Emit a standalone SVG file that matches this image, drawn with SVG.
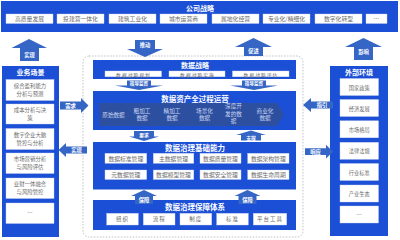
<svg xmlns="http://www.w3.org/2000/svg" width="400" height="240" viewBox="0 0 400 240">
<defs>
<style>
text{font-family:"Noto Sans CJK SC","Noto Sans",sans-serif;text-anchor:middle;dominant-baseline:central}
.panel{fill:#1b4fd6}
.box{fill:#ffffff;stroke:#c8d2ea;stroke-width:0.4}
.ttl{fill:#ffffff;font-weight:bold;font-size:7px}
.itm{fill:#6a6a6a;font-size:5.8px}
.lp{fill:#6a6a6a;font-size:5.4px}
.sm{fill:#6a6a6a;font-size:5px;letter-spacing:1px}
.stg{fill:#c9d4f0;font-size:5.6px}
.arw{fill:#3566c6}
.arl{fill:#ffffff;font-size:5.3px;font-weight:bold}
.band{fill:#2d4f9f}
</style>
</defs>

<g id="company-strategy">
<rect class="panel" x="1" y="1" width="397" height="31"/>
<text class="ttl" x="200" y="7.5">公司战略</text>
<rect class="box" x="6" y="14" width="47" height="9.5"/><text class="itm" x="29.5" y="18.8">高质量发展</text>
<rect class="box" x="57" y="14" width="47" height="9.5"/><text class="itm" x="80.5" y="18.8">投建营一体化</text>
<rect class="box" x="109" y="14" width="47" height="9.5"/><text class="itm" x="132.5" y="18.8">建筑工业化</text>
<rect class="box" x="160" y="14" width="47" height="9.5"/><text class="itm" x="183.5" y="18.8">城市运营商</text>
<rect class="box" x="212" y="14" width="47" height="9.5"/><text class="itm" x="235.5" y="18.8">属地化经营</text>
<rect class="box" x="263" y="14" width="47" height="9.5"/><text class="itm" x="286.5" y="18.8">专业化/精细化</text>
<rect class="box" x="315" y="14" width="47" height="9.5"/><text class="itm" x="338.5" y="18.8">数字化转型</text>
<rect class="box" x="366" y="14" width="21" height="9.5"/><text class="itm" x="376.5" y="18.8">…</text>
</g>

<g id="business-scenarios">
<rect class="panel" x="2" y="66" width="57" height="171"/>
<text class="ttl" x="30.5" y="72">业务场景</text>
<rect class="box" x="6" y="79.5" width="48" height="21"/><text class="lp" x="30" y="86">综合盈利能力</text><text class="lp" x="30" y="94">分析与预测</text>
<rect class="box" x="6" y="104" width="48" height="20"/><text class="lp" x="30" y="110">成本分析与决</text><text class="lp" x="30" y="118">策</text>
<rect class="box" x="6" y="128.5" width="48" height="21"/><text class="lp" x="30" y="135">数字企业大脑</text><text class="lp" x="30" y="143">管控与分析</text>
<rect class="box" x="6" y="153" width="48" height="20.5"/><text class="lp" x="30" y="159.3">市场营销分析</text><text class="lp" x="30" y="167.3">与风险评估</text>
<rect class="box" x="6" y="178" width="48" height="20.5"/><text class="lp" x="30" y="184.3">业财一体融合</text><text class="lp" x="30" y="192.3">与风险管控</text>
<rect class="box" x="6" y="203" width="48" height="20.5"/><text class="lp" x="30" y="213.2">…</text>
</g>

<g id="external-environment">
<rect class="panel" x="330" y="66" width="58" height="170"/>
<text class="ttl" x="359" y="71.5">外部环境</text>
<rect class="box" x="340" y="78.5" width="38.5" height="17"/><text class="itm" x="359.2" y="87" style="font-size:5.2px">国家政策</text>
<rect class="box" x="340" y="99.5" width="38.5" height="17"/><text class="itm" x="359.2" y="108" style="font-size:5.2px">经济发展</text>
<rect class="box" x="340" y="120.8" width="38.5" height="17"/><text class="itm" x="359.2" y="129.3" style="font-size:5.2px">市场格局</text>
<rect class="box" x="340" y="142.3" width="38.5" height="17"/><text class="itm" x="359.2" y="150.8" style="font-size:5.2px">法律法规</text>
<rect class="box" x="340" y="163.5" width="38.5" height="17"/><text class="itm" x="359.2" y="172" style="font-size:5.2px">行业标准</text>
<rect class="box" x="340" y="185" width="38.5" height="17"/><text class="itm" x="359.2" y="193.5" style="font-size:5.2px">产业生态</text>
<rect class="box" x="340" y="206" width="38.5" height="17"/><text class="itm" x="359.2" y="214.5" style="font-size:5.2px">…</text>
</g>

<g id="data-governance-area">
<rect x="83" y="56" width="220" height="181" rx="6" fill="none" stroke="#9aa0aa" stroke-width="0.6" stroke-dasharray="1.6 1.4"/>
</g>

<g id="data-strategy">
<rect class="panel" x="93" y="60" width="203" height="19"/>
<text class="ttl" x="195" y="65.3">数据战略</text>
<rect class="box" x="105" y="71" width="56.5" height="5.8"/><text class="sm" x="133.5" y="74" style="font-size:4.8px">数据战略规划</text>
<rect class="box" x="169" y="71" width="56" height="5.8"/><text class="sm" x="197.5" y="74" style="font-size:4.8px">数据战略实施</text>
<rect class="box" x="232.5" y="71" width="56.5" height="5.8"/><text class="sm" x="261" y="74" style="font-size:4.8px">数据战略评估</text>
</g>

<g id="data-asset-operation">
<rect class="panel" x="93" y="91" width="203" height="39"/>
<text class="ttl" x="195" y="98" style="font-size:7.5px">数据资产全过程运营</text>
<polygon class="band" points="99,103 277,103 284,114.5 277,126 99,126"/>
<text class="stg" x="113.5" y="114.5">原始数据</text>
<text class="stg" x="142" y="110.5">粗加工</text><text class="stg" x="142" y="118">数据</text>
<text class="stg" x="172" y="110.5">精加工</text><text class="stg" x="172" y="118">数据</text>
<text class="stg" x="204.5" y="110.5">场景化</text><text class="stg" x="204.5" y="118">数据</text>
<text class="stg" x="233.5" y="106.3">深度开</text><text class="stg" x="233.5" y="113.6">发的数</text><text class="stg" x="233.5" y="120.9">据</text>
<text class="stg" x="265" y="110.5">商业化</text><text class="stg" x="265" y="118">数据</text>
</g>

<g id="data-governance-capability">
<rect class="panel" x="93" y="142" width="203" height="47.5"/>
<text class="ttl" x="195" y="147.8" style="font-size:7.5px">数据治理基础能力</text>
<rect class="box" x="105" y="153.3" width="41.7" height="10"/><text class="itm" x="125.8" y="158.3">数据标准管理</text>
<rect class="box" x="153.3" y="153.3" width="40.5" height="10"/><text class="itm" x="173.5" y="158.3">主数据管理</text>
<rect class="box" x="200" y="153.3" width="41" height="10"/><text class="itm" x="220.5" y="158.3">数据质量管理</text>
<rect class="box" x="247.7" y="153.3" width="41.3" height="10"/><text class="itm" x="268.3" y="158.3">数据架构管理</text>
<rect class="box" x="105" y="170" width="41.7" height="9.5"/><text class="itm" x="125.8" y="174.8">元数据管理</text>
<rect class="box" x="153.3" y="170" width="40.5" height="9.5"/><text class="itm" x="173.5" y="174.8">数据模型管理</text>
<rect class="box" x="200" y="170" width="41" height="9.5"/><text class="itm" x="220.5" y="174.8">数据安全管理</text>
<rect class="box" x="247.7" y="170" width="41.3" height="9.5"/><text class="itm" x="268.3" y="174.8">数据生命周期</text>
</g>

<g id="data-governance-guarantee">
<rect class="panel" x="93" y="200" width="203" height="30"/>
<text class="ttl" x="195" y="206.3" style="font-size:7.5px">数据治理保障体系</text>
<rect class="box" x="106.7" y="213.3" width="31.6" height="11.7"/><text class="sm" x="122.5" y="219.2" style="font-size:5.5px">组织</text>
<rect class="box" x="143.3" y="213.3" width="31.7" height="11.7"/><text class="sm" x="159.2" y="219.2" style="font-size:5.5px">流程</text>
<rect class="box" x="180" y="213.3" width="31.7" height="11.7"/><text class="sm" x="195.8" y="219.2" style="font-size:5.5px">制度</text>
<rect class="box" x="216.7" y="213.3" width="31.6" height="11.7"/><text class="sm" x="232.5" y="219.2" style="font-size:5.5px">标准</text>
<rect class="box" x="253.3" y="213.3" width="33.4" height="11.7"/><text class="sm" x="270" y="219.2" style="font-size:5.5px">平台工具</text>
</g>

<g id="connectors">
<polygon class="arw" points="29,39 47,48 39,48 39,61 20,61 20,48 11.5,48"/><text class="arl" x="29.5" y="54.5">实现</text>
<polygon class="arw" points="135,40 155,40 155,49 163,49 145,57 127,49 135,49"/><text class="arl" x="145" y="45">推动</text>
<polygon class="arw" points="253.5,38 272,47 263,47 263,56 244,56 244,47 235,47"/><text class="arl" x="253.5" y="51">促进</text>
<polygon class="arw" points="363.5,38 382,47 373,47 373,60 354,60 354,47 345,47"/><text class="arl" x="363.5" y="52">影响</text>

<polygon class="arw" points="60,101.5 81,101.5 81,98 88.5,105.5 81,113 81,109.5 60,109.5"/><text class="arl" x="70.5" y="105.5">需求</text>
<polygon class="arw" points="58.5,150 66,143 66,146.5 87,146.5 87,153.5 66,153.5 66,157"/><text class="arl" x="76.5" y="150">实现</text>
<polygon class="arw" points="303,105 311,98 311,101.5 333,101.5 333,108.5 311,108.5 311,112"/><text class="arl" x="322" y="105">指引</text>
<polygon class="arw" points="305,148.3 326,148.3 326,144.8 333,151.7 326,158.6 326,155.1 305,155.1"/><text class="arl" x="315.5" y="151.7">响应</text>

<polygon class="arw" points="127,80.5 151,80.5 151,85.5 163,85.5 139,90 115,85.5 127,85.5"/><text class="arl" x="139" y="83.3" style="font-size:4.6px">指导监督</text>
<polygon class="arw" points="242,80.5 266,80.5 266,85.5 278,85.5 254,90 230,85.5 242,85.5"/><text class="arl" x="254" y="83.3" style="font-size:4.6px">指导监督</text>

<polygon class="arw" points="134,131 154,131 154,136.5 159,136.5 144,141 129,136.5 134,136.5"/><text class="arl" x="144" y="134" style="font-size:4.8px">要求</text>
<polygon class="arw" points="251,130.5 266,135 261,135 261,140.5 241,140.5 241,135 236,135"/><text class="arl" x="251" y="137.6" style="font-size:4.8px">支撑</text>

<polygon class="arw" points="144,190 157,196 153,196 153,204 135,204 135,196 131,196"/><text class="arl" x="144" y="199.5">保障</text>
<polygon class="arw" points="247.5,190 260.5,196 256.5,196 256.5,204 238.5,204 238.5,196 234.5,196"/><text class="arl" x="247.5" y="199.5">保障</text>
</g>
</svg>
